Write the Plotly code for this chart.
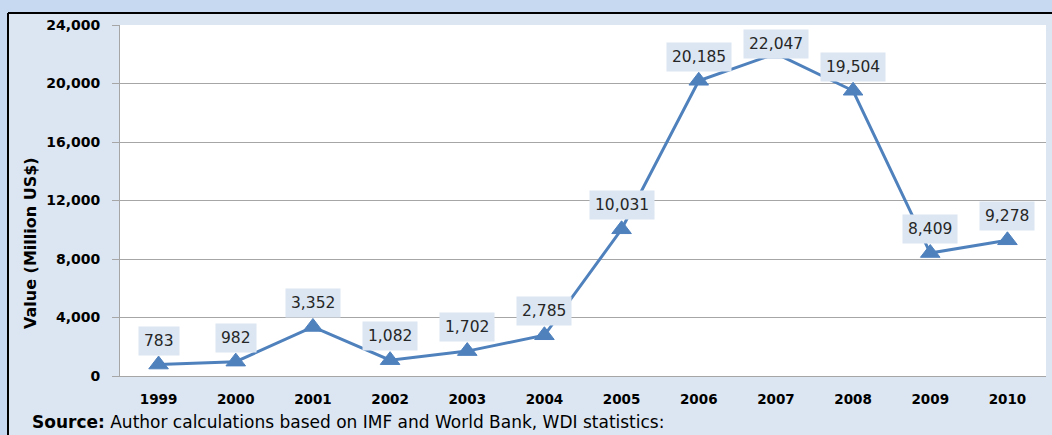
import plotly.graph_objects as go

# Annual values, million US$
years = ["1999", "2000", "2001", "2002", "2003", "2004",
         "2005", "2006", "2007", "2008", "2009", "2010"]
values = [783, 982, 3352, 1082, 1702, 2785,
          10031, 20185, 22047, 19504, 8409, 9278]
y_ticks = [0, 4000, 8000, 12000, 16000, 20000, 24000]
y_title = "Value (Million US$)"
source_note = "<b>Source:</b> Author calculations based on IMF and World Bank, WDI statistics:"

W, H = 1052, 435
ML, MR, MT, MB = 120, 6, 25, 59
plot_w = W - ML - MR
plot_h = H - MT - MB
y_max = 24000

line_blue = "#4f81bd"
inner_bg = "#dce6f2"
outer_bg = "#c6d9f0"
grid_grey = "#a6a6a6"
font_name = "DejaVu Sans"


def px_x(p):
    return (p - ML) / plot_w


def px_y(p):
    return (H - MB - p) / plot_h


fig = go.Figure()
fig.add_trace(go.Scatter(
    x=years, y=values, mode="lines+markers",
    line=dict(color=line_blue, width=3),
    marker=dict(symbol="triangle-up", size=17, color=line_blue,
                line=dict(color=line_blue, width=1)),
    hoverinfo="x+y", showlegend=False,
))

# Value labels above each point, kept inside the plot area near the top
ppu = plot_h / y_max
annotations = []
for i, v in enumerate(values):
    shift = min(24, (y_max - v) * ppu - 19)
    annotations.append(dict(
        x=i, y=v, xref="x", yref="y", yshift=shift,
        text=f"{v:,}", showarrow=False,
        font=dict(family=font_name, size=15.5, color="#262626"),
        bgcolor=inner_bg, borderpad=5,
    ))

annotations.append(dict(
    x=px_x(31), y=px_y(243), xref="paper", yref="paper",
    text=f"<b>{y_title}</b>", textangle=-90, showarrow=False,
    font=dict(family=font_name, size=16, color="#000000"),
    xanchor="center", yanchor="middle",
))
annotations.append(dict(
    x=px_x(30), y=px_y(422), xref="paper", yref="paper",
    text=source_note, showarrow=False,
    font=dict(family=font_name, size=17, color="#000000"),
    xanchor="left", yanchor="middle",
))

# Outer frame: light band along top and left with a black border line
shapes = [
    dict(type="rect", xref="paper", yref="paper",
         x0=px_x(-5), x1=px_x(W + 5), y0=px_y(13), y1=px_y(-5),
         fillcolor=outer_bg, line=dict(width=0)),
    dict(type="rect", xref="paper", yref="paper",
         x0=px_x(-5), x1=px_x(8), y0=px_y(H + 5), y1=px_y(13),
         fillcolor=outer_bg, line=dict(width=0)),
    dict(type="line", xref="paper", yref="paper",
         x0=px_x(8), x1=px_x(W + 5), y0=px_y(13), y1=px_y(13),
         line=dict(color="#000000", width=2)),
    dict(type="line", xref="paper", yref="paper",
         x0=px_x(8), x1=px_x(8), y0=px_y(13), y1=px_y(H + 5),
         line=dict(color="#000000", width=2)),
]

fig.update_layout(
    width=W, height=H,
    margin=dict(l=ML, r=MR, t=MT, b=MB),
    paper_bgcolor=inner_bg, plot_bgcolor="#ffffff",
    font=dict(family=font_name, color="#000000"),
    annotations=annotations, shapes=shapes,
    xaxis=dict(
        type="category", range=[-0.5, len(years) - 0.5],
        showgrid=False, showline=True, linecolor=grid_grey, linewidth=1,
        ticks="outside", ticklen=8, tickcolor="rgba(0,0,0,0)",
        tickfont=dict(family=font_name, size=13.5, color="#000000", weight="bold"),
        ticklabelstandoff=3, fixedrange=True,
    ),
    yaxis=dict(
        range=[0, y_max], tickvals=y_ticks,
        ticktext=[f"{t:,}" for t in y_ticks],
        showgrid=True, gridcolor=grid_grey, gridwidth=1,
        showline=True, linecolor=grid_grey, linewidth=1,
        ticks="outside", ticklen=7, tickcolor=grid_grey,
        tickfont=dict(family=font_name, size=14, color="#000000", weight="bold"),
        ticklabelstandoff=9, zeroline=False, fixedrange=True,
    ),
)

fig.write_html("out.html")
